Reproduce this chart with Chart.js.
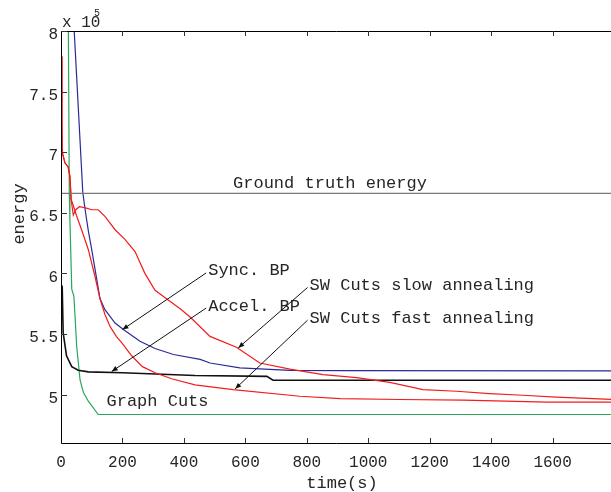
<!DOCTYPE html>
<html>
<head>
<meta charset="utf-8">
<script src="https://cdn.jsdelivr.net/npm/chart.js@4.4.1/dist/chart.umd.min.js"></script>
<style>
  html, body { margin: 0; padding: 0; background: #fff; overflow: hidden; }
</style>
</head>
<body>
<canvas id="chart" width="611" height="492"></canvas>
<script>
// energies are in units of 1e5
const xTicks = [0, 200, 400, 600, 800, 1000, 1200, 1400, 1600];
const xTickLabels = ['0', '200', '400', '600', '800', '1000', '1200', '1400', '1600'];
const yTicks = [5, 5.5, 6, 6.5, 7, 7.5, 8];
const yTickLabels = ['5', '5.5', '6', '6.5', '7', '7.5', '8'];

const groundTruthTime = [0, 1790];
const groundTruthEnergy = [6.66, 6.66];

const graphCutsTime = [22, 24, 27, 29, 35, 42, 51, 62, 73, 89, 121, 1790];
const graphCutsEnergy = [8.6, 8.0, 6.66, 6.44, 5.87, 5.81, 5.40, 5.12, 5.016, 4.945, 4.835, 4.835];

const syncBpTime = [38, 43, 71, 80, 89, 100, 111, 127, 143, 176, 203, 257, 306, 366, 453, 485, 582, 745, 907, 1790];
const syncBpEnergy = [8.3, 8.0, 6.665, 6.50, 6.35, 6.195, 6.03, 5.79, 5.70, 5.59, 5.536, 5.44, 5.38, 5.33, 5.29, 5.26, 5.22, 5.20, 5.198, 5.195];

const accelBpTime = [3, 4, 7, 18, 35, 56, 89, 200, 436, 670, 690, 1790];
const accelBpEnergy = [5.9, 5.88, 5.51, 5.32, 5.23, 5.20, 5.187, 5.18, 5.157, 5.15, 5.118, 5.118];

const swSlowTime = [2, 3, 4, 13, 23, 29, 33, 40, 48, 60, 80, 100, 121, 143, 176, 208, 241, 273, 306, 349, 392, 420, 485, 571, 647, 745, 853, 962, 1070, 1178, 1287, 1395, 1503, 1612, 1790];
const swSlowEnergy = [7.79, 7.24, 7.0, 6.91, 6.88, 6.80, 6.61, 6.48, 6.525, 6.55, 6.54, 6.525, 6.525, 6.47, 6.36, 6.28, 6.18, 6.0, 5.86, 5.78, 5.70, 5.64, 5.48, 5.39, 5.26, 5.21, 5.165, 5.14, 5.10, 5.04, 5.027, 5.008, 4.994, 4.978, 4.96];

const swFastTime = [2, 3, 4, 13, 23, 29, 33, 40, 50, 67, 89, 111, 127, 143, 160, 180, 200, 230, 265, 306, 360, 436, 560, 777, 909, 1102, 1310, 1583, 1790];
const swFastEnergy = [7.79, 7.24, 7.0, 6.91, 6.88, 6.80, 6.61, 6.56, 6.48, 6.36, 6.195, 5.97, 5.79, 5.66, 5.56, 5.48, 5.42, 5.32, 5.23, 5.18, 5.13, 5.08, 5.04, 4.986, 4.967, 4.959, 4.953, 4.937, 4.937];

// text labels (data units), arrows point at the curves
const notes = [
  { text: 'Ground truth energy', t: 560, e: 6.74 },
  { text: 'Sync. BP', t: 479, e: 6.02, tip: [200, 5.536] },
  { text: 'Accel. BP', t: 479, e: 5.73, tip: [165, 5.19] },
  { text: 'SW Cuts slow annealing', t: 809, e: 5.90, tip: [577, 5.385] },
  { text: 'SW Cuts fast annealing', t: 809, e: 5.63, tip: [567, 5.047] },
  { text: 'Graph Cuts', t: 148, e: 4.94 }
];

const FONT = "'Liberation Mono', 'DejaVu Sans Mono', monospace";
const TXT = '#262626';

const pts = (ts, es) => ts.map((t, i) => ({ x: t, y: es[i] }));

const series = [
  { data: pts(groundTruthTime, groundTruthEnergy), color: '#777777', width: 1.3 },
  { data: pts(swSlowTime, swSlowEnergy), color: '#f21c1c', width: 1.2 },
  { data: pts(swFastTime, swFastEnergy), color: '#f21c1c', width: 1.2 },
  { data: pts(syncBpTime, syncBpEnergy), color: '#2b2b98', width: 1.2 },
  { data: pts(accelBpTime, accelBpEnergy), color: '#111111', width: 1.6 },
  { data: pts(graphCutsTime, graphCutsEnergy), color: '#2aa65a', width: 1.2 }
];

const framePlugin = {
  id: 'frame',
  afterDatasetsDraw(chart) {
    const ctx = chart.ctx;
    const ca = chart.chartArea;
    const xs = chart.scales.x, ys = chart.scales.y;
    ctx.save();
    // axes box (left, bottom, top)
    ctx.strokeStyle = '#000';
    ctx.lineWidth = 1;
    ctx.beginPath();
    ctx.moveTo(ca.right, ca.top + 0.5); ctx.lineTo(ca.left + 0.5, ca.top + 0.5);
    ctx.lineTo(ca.left + 0.5, ca.bottom + 0.5); ctx.lineTo(ca.right, ca.bottom + 0.5);
    ctx.stroke();
    // inward tick marks
    ctx.strokeStyle = '#333';
    ctx.beginPath();
    xTicks.forEach(v => {
      if (v === 0) return;
      const x = Math.round(xs.getPixelForValue(v)) + 0.5;
      ctx.moveTo(x, ca.bottom); ctx.lineTo(x, ca.bottom - 5);
      ctx.moveTo(x, ca.top); ctx.lineTo(x, ca.top + 5);
    });
    yTicks.forEach(v => {
      const y = Math.round(ys.getPixelForValue(v)) + 0.5;
      ctx.moveTo(ca.left, y); ctx.lineTo(ca.left + 6, y);
    });
    ctx.stroke();

    // annotations
    ctx.fillStyle = TXT;
    ctx.font = '17px ' + FONT;
    ctx.textBaseline = 'middle';
    ctx.textAlign = 'left';
    notes.forEach(n => {
      const x = xs.getPixelForValue(n.t), y = ys.getPixelForValue(n.e);
      ctx.fillText(n.text, x, y);
      if (n.tip) {
        const x0 = x - 2, y0 = y + 2;
        const x1 = xs.getPixelForValue(n.tip[0]), y1 = ys.getPixelForValue(n.tip[1]);
        ctx.strokeStyle = '#111';
        ctx.lineWidth = 1;
        ctx.beginPath(); ctx.moveTo(x0, y0); ctx.lineTo(x1, y1); ctx.stroke();
        const a = Math.atan2(y1 - y0, x1 - x0);
        ctx.beginPath();
        ctx.moveTo(x1, y1);
        ctx.lineTo(x1 - 6 * Math.cos(a) + 2.5 * Math.sin(a), y1 - 6 * Math.sin(a) - 2.5 * Math.cos(a));
        ctx.lineTo(x1 - 6 * Math.cos(a) - 2.5 * Math.sin(a), y1 - 6 * Math.sin(a) + 2.5 * Math.cos(a));
        ctx.closePath();
        ctx.fillStyle = '#111';
        ctx.fill();
        ctx.fillStyle = TXT;
      }
    });

    // axis titles and exponent
    ctx.textAlign = 'center';
    ctx.fillText('time(s)', (ca.left + ca.right) / 2 + 6, 483);
    ctx.save();
    ctx.translate(19, 214);
    ctx.rotate(-Math.PI / 2);
    ctx.fillText('energy', 0, 0);
    ctx.restore();
    ctx.textAlign = 'left';
    ctx.textBaseline = 'alphabetic';
    ctx.font = '16px ' + FONT;
    ctx.fillText('x 10', 62, 27);
    ctx.font = '10px ' + FONT;
    ctx.fillText('5', 94, 16);
    ctx.restore();
  }
};

new Chart(document.getElementById('chart'), {
  type: 'line',
  data: {
    datasets: series.map(s => ({
      data: s.data,
      borderColor: s.color,
      borderWidth: s.width,
      pointRadius: 0,
      tension: 0,
      fill: false
    }))
  },
  options: {
    responsive: false,
    animation: false,
    events: [],
    layout: { padding: { top: 31, right: 0, left: 0, bottom: 0 } },
    plugins: { legend: { display: false }, tooltip: { enabled: false } },
    scales: {
      x: {
        type: 'linear',
        min: 0,
        max: 1790,
        afterBuildTicks: s => { s.ticks = xTicks.map(v => ({ value: v })); },
        ticks: {
          font: { family: FONT, size: 16 }, color: TXT, padding: 10, maxRotation: 0, autoSkip: false,
          callback: v => xTickLabels[xTicks.indexOf(v)]
        },
        grid: { display: false, drawTicks: false },
        border: { display: false },
        afterFit: s => { s.height = 49; }
      },
      y: {
        type: 'linear',
        min: 4.6,
        max: 8,
        afterBuildTicks: s => { s.ticks = yTicks.map(v => ({ value: v })); },
        ticks: {
          font: { family: FONT, size: 16 }, color: TXT, padding: 3, labelOffset: 4,
          callback: v => yTickLabels[yTicks.indexOf(v)]
        },
        grid: { display: false, drawTicks: false },
        border: { display: false },
        afterFit: s => { s.width = 61; }
      }
    }
  },
  plugins: [framePlugin]
});
</script>
</body>
</html>
